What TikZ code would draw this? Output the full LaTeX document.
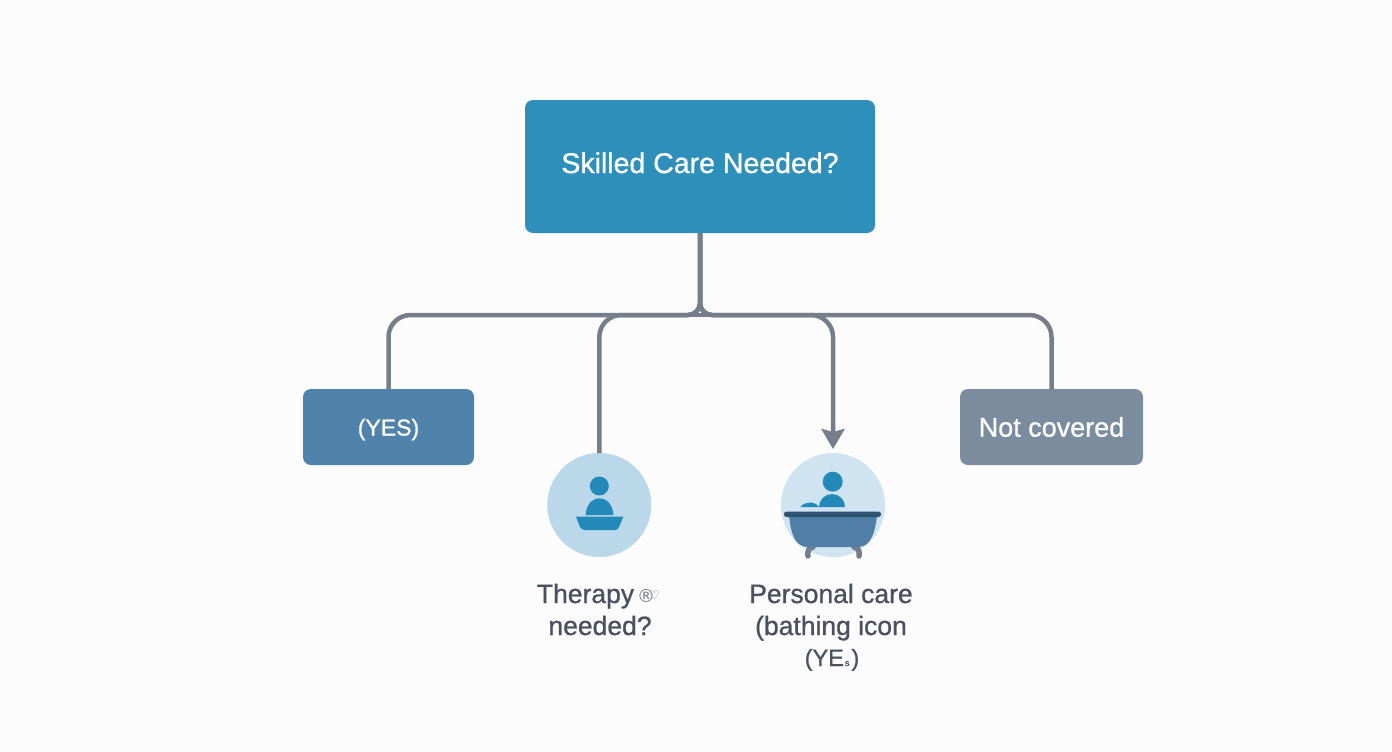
\documentclass[tikz,border=0pt]{standalone}
\usepackage{fontspec}
\setmainfont{Liberation Sans}
\newfontfamily\medfont[FakeBold=0.9]{Liberation Sans}
\newfontfamily\symfont{DejaVu Sans}
\usetikzlibrary{arrows.meta}
\definecolor{bgc}{HTML}{FCFCFC}
\definecolor{linec}{HTML}{767D8B}
\definecolor{rootc}{HTML}{2E8FBA}
\definecolor{yesc}{HTML}{5083AB}
\definecolor{notc}{HTML}{7B8C9E}
\definecolor{circa}{HTML}{BBD7EA}
\definecolor{circb}{HTML}{CFE3F1}
\definecolor{iconc}{HTML}{2389B8}
\definecolor{rimc}{HTML}{2F5272}
\definecolor{tubc}{HTML}{4F7EA6}
\definecolor{txtc}{HTML}{4B5060}
\tikzset{
  x=1pt,y=-1pt,
  boxn/.style={rectangle,rounded corners=8pt,inner sep=0pt,outer sep=0pt,text=white,font=\medfont\fontsize{27}{27}\selectfont},
  circn/.style={circle,inner sep=0pt,outer sep=0pt,minimum size=104pt},
  labeln/.style={inner sep=0pt,outer sep=0pt,text=txtc,font=\medfont\fontsize{26.5}{26.5}\selectfont,anchor=base},
  conn/.style={draw=linec,line width=4.5pt},
  arrowc/.style={conn,-{Stealth[length=20pt,width=23pt,inset=3pt]},shorten >=4pt},
}
\begin{document}
\begin{tikzpicture}
\useasboundingbox (0,0) rectangle (1392,752);
\fill[bgc] (0,0) rectangle (1392,752);
\node[boxn,fill=rootc,minimum width=350pt,minimum height=133pt,font=\medfont\fontsize{28.5}{28.5}\selectfont,text height=13pt,text depth=0pt] (root) at (700,166.5) {Skilled Care Needed?};
\node[boxn,fill=yesc,minimum width=171pt,minimum height=76pt,font=\medfont\fontsize{23}{23}\selectfont,text height=17pt,text depth=0pt] (yes) at (388.5,427) {(YES)};
\node[boxn,fill=notc,minimum width=183pt,minimum height=76pt] (notcov) at (1051.5,427) {Not covered};
\node[circn,fill=circa] (therapy) at (599.3,505) {};
\node[circn,fill=circb] (bath) at (833,505) {};
\coordinate (bus) at (700,315);
\coordinate (busl) at (670,315);
\coordinate (busr) at (730,315);
\draw[conn] (busl) -- (busr);
\draw[conn,rounded corners=12pt] (root.south) -- (bus) [rounded corners=22pt] -- (bus -| yes.north) -- (yes.north);
\draw[conn,rounded corners=12pt] (root.south) -- (bus) [rounded corners=22pt] -- (bus -| therapy.north) -- (therapy.north);
\draw[arrowc,rounded corners=12pt] (root.south) -- (bus) [rounded corners=22pt] -- (bus -| bath.north) -- (bath.north);
\draw[conn,rounded corners=12pt] (root.south) -- (bus) [rounded corners=22pt] -- (bus -| notcov.north) -- (notcov.north);
% therapy icon
\fill[iconc] (599.3,486) circle (9.5);
\fill[iconc] (585.7,515) arc[start angle=180,end angle=360,x radius=13.8,y radius=16.7] -- cycle;
\fill[iconc] (576,516.7) -- (623.3,516.7) -- (619,527) .. controls (618,529) and (617,530) .. (615,530) -- (585,530) .. controls (583,530) and (581,529) .. (580,527) -- cycle;
% bath icon
\fill[iconc] (832.7,481.7) circle (10);
\fill[iconc] (819,507) arc[start angle=180,end angle=360,x radius=13,y radius=13] -- cycle;
\fill[iconc] (800.5,507) .. controls (805,501) and (815,501) .. (819,507) -- cycle;
\draw[linec,line width=5.5pt,line cap=round] (808,556) .. controls (807,551) and (809,548) .. (813,547);
\draw[linec,line width=5.5pt,line cap=round] (859,556) .. controls (860,551) and (858,548) .. (854,547);
\fill[tubc] (789,516) .. controls (791,532) and (794,547) .. (808,547) -- (858,547) .. controls (871,547) and (875,532) .. (877,516) -- cycle;
\fill[rimc,rounded corners=2.5pt] (784,511.5) rectangle (881,517);
% labels
\node[labeln] (l1) at (585.5,603) {Therapy};
\node[inner sep=0pt,outer sep=0pt,text=linec,font=\symfont\fontsize{18}{18}\selectfont] (l1a) at (646,595.5) {®};
\node[inner sep=0pt,outer sep=0pt,text=linec,font=\symfont\fontsize{12}{12}\selectfont] (l1b) at (654.5,595) {♡};
\node[labeln] (l2) at (600,635) {needed?};
\node[labeln] (l3) at (831,603) {Personal care};
\node[labeln] (l4) at (831,635) {(bathing icon};
\node[labeln,font=\medfont\fontsize{23.5}{23.5}\selectfont] (l5) at (832,666) {(YE\hspace{1pt}{\fontsize{9}{9}\selectfont s}\hspace{2pt})};
\end{tikzpicture}
\end{document}
